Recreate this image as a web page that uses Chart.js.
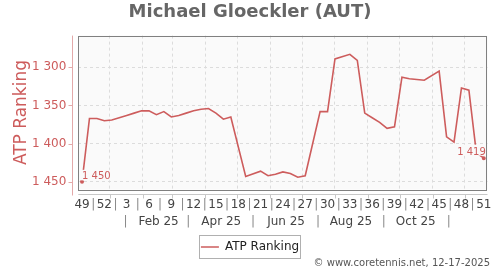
<!DOCTYPE html>
<html>
<head>
<meta charset="utf-8">
<script src="https://cdn.jsdelivr.net/npm/chart.js@4.4.1/dist/chart.umd.min.js"></script>
<style>
  html, body { margin: 0; padding: 0; background: #fff; }
  #wrap { width: 500px; height: 270px; }
</style>
</head>
<body>
<div id="wrap"><canvas id="rankChart"></canvas></div>
<script>
// Weekly ATP ranking, week 49/2024 .. week 51/2025
// null = no visible change point in the picture (line just runs straight through)
const weekNumbers = [49, 50, 51, 52, 1, 2, 3, 4, 5, 6, 7, 8, 9, 10, 11, 12, 13, 14, 15, 16, 17, 18,
  19, 20, 21, 22, 23, 24, 25, 26, 27, 28, 29, 30, 31, 32, 33, 34, 35, 36, 37, 38, 39, 40, 41, 42,
  43, 44, 45, 46, 47, 48, 49, 50, 51];
const rankings = [1450, 1367, 1367, 1370, 1369, 1366, 1363, 1360, 1357, 1357, 1362, 1358, 1365,
  1363, 1360, 1357, 1355, 1354, 1360, 1368, 1365, null, 1443, null, 1436, 1442, 1440, 1437, 1439,
  1444, 1442, null, 1358, 1358, 1289, null, 1283, 1291, 1360, 1366, 1372, 1380, 1378, 1313, 1315,
  1316, 1317, null, 1305, 1391, 1398, 1327, 1330, 1412, 1419];
const rankTicks = [1300, 1350, 1400, 1450];
const monthLabels = ['Feb 25', 'Apr 25', 'Jun 25', 'Aug 25', 'Oct 25'];
const seriesName = 'ATP Ranking';
const titleText = 'Michael Gloeckler (AUT)';
const footerText = '\u00a9 www.coretennis.net, 12-17-2025';

const RED = '#cd5c5c';
const PLOT_BG = '#fafafa';

// week index of a calendar date (index 0 = week starting Mon 2 Dec 2024)
const START = Date.UTC(2024, 11, 2);
function weekPos(y, m, d) {
  return ((Date.UTC(y, m, d) - START) / 864e5 - 4) / 7;
}
function fmtRank(v) {
  return String(v).replace(/\B(?=(\d{3})+(?!\d))/g, ' ');
}

const monthStarts = [];
for (let m = 0; m < 12; m++) monthStarts.push(weekPos(2025, m, 1));

function weekTicks() {
  const t = [];
  for (let k = 0; k < weekNumbers.length; k += 3) t.push({ value: k, kind: 'w', text: String(weekNumbers[k]) });
  for (let k = 1.5; k < weekNumbers.length - 1; k += 3) t.push({ value: k, kind: 's', text: '|' });
  monthStarts.forEach(v => t.push({ value: v, kind: 'g', text: '' }));
  return t.sort((a, b) => a.value - b.value);
}
function monthTicks() {
  const t = [];
  monthLabels.forEach((lbl, i) => t.push({ value: weekPos(2025, 1 + 2 * i, 16), kind: 'm', text: lbl }));
  for (let m = 0; m < 12; m += 2) t.push({ value: weekPos(2025, m, 16), kind: 's', text: '|' });
  return t.sort((a, b) => a.value - b.value);
}

Chart.defaults.font.family = "'DejaVu Sans', sans-serif";

const framePlugin = {
  id: 'frame',
  beforeDraw(chart) {
    const { ctx, chartArea: a } = chart;
    ctx.save();
    ctx.fillStyle = '#fff';
    ctx.fillRect(0, 0, chart.width, chart.height);
    ctx.fillStyle = PLOT_BG;
    ctx.fillRect(a.left, a.top, a.right - a.left, a.bottom - a.top);
    ctx.restore();
  },
  afterDatasetsDraw(chart) {
    const { ctx } = chart;
    const pts = chart.getDatasetMeta(0).data;
    const first = pts[0], last = pts[pts.length - 1];
    ctx.save();
    ctx.font = "10px 'DejaVu Sans'";
    ctx.textBaseline = 'alphabetic';
    // first value label, to the right of the point
    let txt = fmtRank(rankings[0]);
    let w = ctx.measureText(txt).width;
    ctx.fillStyle = PLOT_BG;
    ctx.fillRect(first.x - 1, first.y - 12, w + 3, 10.5);
    ctx.fillStyle = RED;
    ctx.textAlign = 'left';
    ctx.fillText(txt, first.x, first.y - 3);
    // last value label, to the left of the point
    txt = fmtRank(rankings[rankings.length - 1]);
    w = ctx.measureText(txt).width;
    ctx.fillStyle = PLOT_BG;
    ctx.fillRect(last.x + 2 - w - 2, last.y - 13.5, w + 4, 11);
    ctx.fillStyle = RED;
    ctx.textAlign = 'right';
    ctx.fillText(txt, last.x + 2, last.y - 3.4);
    ctx.restore();
  },
  afterDraw(chart) {
    const { ctx, chartArea: a } = chart;
    ctx.save();
    // plot frame
    ctx.strokeStyle = '#808080';
    ctx.lineWidth = 1;
    ctx.strokeRect(Math.round(a.left) + 0.5, Math.round(a.top) + 0.5,
      Math.round(a.right - a.left) - 1, Math.round(a.bottom - a.top));
    // offset y axis line + tick stubs
    const ys = chart.scales.y;
    const ax = Math.round(a.left) - 5.5;
    ctx.strokeStyle = '#e3a9a9';
    ctx.beginPath();
    ctx.moveTo(ax, a.top);
    ctx.lineTo(ax, a.bottom + 6);
    ys.ticks.forEach(t => {
      const py = Math.round(ys.getPixelForValue(t.value)) + 0.5;
      ctx.moveTo(ax - 4, py);
      ctx.lineTo(ax, py);
    });
    ctx.stroke();
    // offset x axis line + month stubs
    const xs = chart.scales.x;
    const ay = Math.round(a.bottom) + 4.5;
    ctx.strokeStyle = '#c8c8c8';
    ctx.beginPath();
    ctx.moveTo(a.left, ay);
    ctx.lineTo(a.right, ay);
    monthStarts.forEach(v => {
      const px = Math.round(xs.getPixelForValue(v)) + 0.5;
      ctx.moveTo(px, ay);
      ctx.lineTo(px, ay + 4);
    });
    ctx.stroke();
    // legend border
    const hb = chart.legend.legendHitBoxes[0];
    if (hb) {
      ctx.strokeStyle = '#b0b0b0';
      ctx.strokeRect(Math.round(hb.left) - 1.5, Math.round(hb.top) - 5.5, Math.round(hb.width) + 3, Math.round(hb.height) + 11);
    }
    // footer
    ctx.fillStyle = '#555';
    ctx.font = "10px 'DejaVu Sans'";
    ctx.textAlign = 'right';
    ctx.textBaseline = 'middle';
    ctx.fillText(footerText, 490, 263);
    ctx.restore();
  }
};

const lastIdx = rankings.length - 1;

new Chart(document.getElementById('rankChart'), {
  type: 'line',
  data: {
    datasets: [{
      label: seriesName,
      data: rankings.map((v, i) => ({ x: i, y: v })),
      borderColor: RED,
      backgroundColor: RED,
      borderWidth: 1.6,
      tension: 0,
      spanGaps: true,
      pointRadius: ctx => (ctx.dataIndex === 0 || ctx.dataIndex === lastIdx) ? 1.2 : 0,
      pointHoverRadius: 0
    }]
  },
  options: {
    responsive: true,
    maintainAspectRatio: false,
    animation: false,
    layout: { padding: { left: 12.5, right: 12.5, top: 0, bottom: 7 } },
    plugins: {
      title: {
        display: true,
        text: titleText,
        color: '#666',
        font: { size: 18, weight: 'bold' },
        padding: { top: 2, bottom: 12 }
      },
      legend: {
        position: 'bottom',
        labels: {
          usePointStyle: true,
          pointStyle: 'line',
          pointStyleWidth: 18,
          boxHeight: 8,
          padding: 8,
          color: '#222',
          font: { size: 12 }
        }
      },
      tooltip: { enabled: false }
    },
    scales: {
      x: {
        type: 'linear',
        position: 'bottom',
        weight: 0,
        min: -0.5,
        max: 54.5,
        afterBuildTicks: s => { s.ticks = weekTicks(); },
        afterFit: s => { s.height = 23.5; },
        ticks: {
          autoSkip: false,
          maxRotation: 0,
          padding: 8,
          font: { size: 12 },
          color: c => (c.tick && c.tick.kind === 's') ? '#888' : '#444',
          callback: (v, i, ticks) => ticks[i].text
        },
        grid: {
          drawTicks: false,
          color: c => (c.tick && c.tick.kind === 'g') ? '#dcdcdc' : 'rgba(0,0,0,0)'
        },
        border: { display: false, dash: [3, 3] }
      },
      x2: {
        type: 'linear',
        position: 'bottom',
        weight: 1,
        min: -0.5,
        max: 54.5,
        afterBuildTicks: s => { s.ticks = monthTicks(); },
        afterFit: s => { s.height = 20; },
        ticks: {
          autoSkip: false,
          maxRotation: 0,
          padding: 2,
          font: { size: 12 },
          color: c => (c.tick && c.tick.kind === 's') ? '#888' : '#444',
          callback: (v, i, ticks) => ticks[i].text
        },
        grid: { display: false, drawTicks: false },
        border: { display: false }
      },
      y: {
        reverse: true,
        min: 1258.5,
        max: 1460,
        afterBuildTicks: s => { s.ticks = rankTicks.map(v => ({ value: v })); },
        afterFit: s => { s.width = 65.8; },
        ticks: {
          padding: 12,
          color: RED,
          font: { size: 12 },
          callback: v => fmtRank(v)
        },
        grid: { drawTicks: false, color: '#dcdcdc' },
        border: { display: false, dash: [3, 3] },
        title: {
          display: true,
          text: seriesName,
          color: RED,
          font: { size: 17 },
          padding: { top: -1.5, bottom: 0 }
        }
      }
    }
  },
  plugins: [framePlugin]
});
</script>
</body>
</html>
